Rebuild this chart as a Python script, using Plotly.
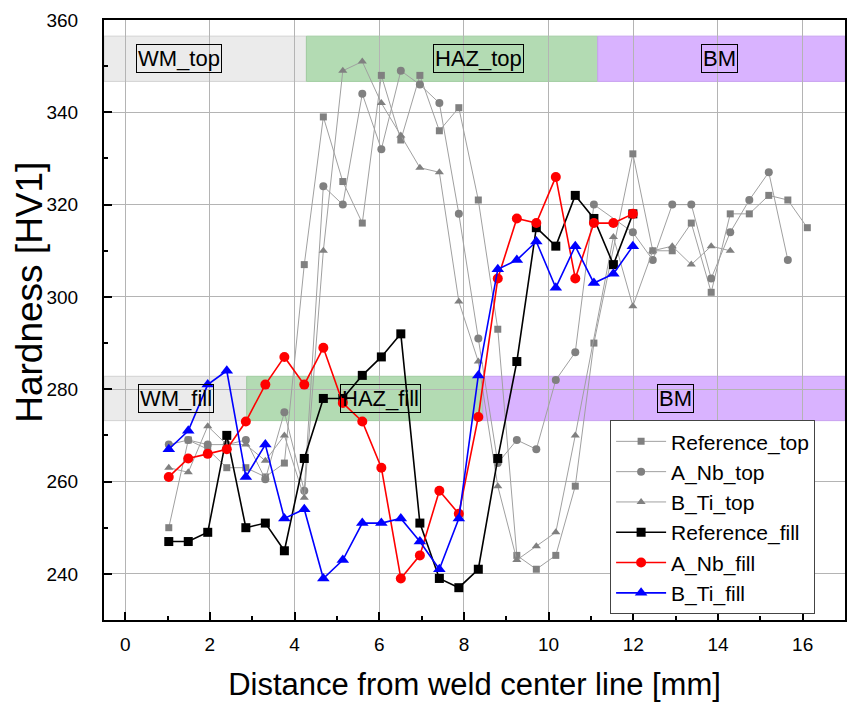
import plotly.graph_objects as go

# ---- data ----
x_fill = [1.03, 1.49, 1.95, 2.40, 2.85, 3.31, 3.76, 4.23, 4.68, 5.14, 5.60, 6.05,
          6.51, 6.96, 7.42, 7.88, 8.34, 8.80, 9.25, 9.71, 10.17, 10.63, 11.07,
          11.53, 11.99]

x_reference_top = [1.03, 1.49, 1.95, 2.40, 2.85, 3.31, 3.76, 4.23, 4.68, 5.14, 5.60, 6.05,
                   6.51, 6.96, 7.42, 7.88, 8.34, 8.80, 9.25, 9.71, 10.17, 10.63, 11.07,
                   11.99, 12.46, 12.92, 13.37, 13.84, 14.29, 14.74, 15.20, 15.65, 16.11]
reference_top = [250, 269, 267, 263, 263, 261, 264, 307, 339, 325, 316, 348, 334, 348,
                 336, 341, 321, 293, 244, 241, 244, 259, 290, 331, 310, 310, 316,
                 301, 318, 318, 322, 321, 315]

x_a_nb_top = [1.03, 1.49, 1.95, 2.40, 2.85, 3.31, 3.76, 4.23, 4.68, 5.14, 5.60, 6.05,
              6.51, 6.96, 7.42, 7.88, 8.34, 8.80, 9.25, 9.71, 10.17, 10.63, 11.07,
              11.99, 12.46, 12.92, 13.37, 13.84, 14.29, 14.74, 15.20, 15.65]
a_nb_top = [268, 269, 268, 268, 269, 260.5, 275, 258, 324, 320, 344, 332, 349, 346,
            342, 318, 291, 264, 269, 267, 282, 288, 320, 314, 308, 320, 320,
            304, 314, 321, 327, 308]

x_b_ti_top = [1.03, 1.49, 1.95, 2.40, 2.85, 3.31, 3.76, 4.23, 4.68, 5.14, 5.60, 6.05,
              6.51, 6.96, 7.42, 7.88, 8.34, 8.80, 9.25, 9.71, 10.17, 10.63, 11.53,
              11.99, 12.46, 12.92, 13.37, 13.84, 14.29]
b_ti_top = [263, 262, 272, 268, 268, 264.5, 270, 256.5, 310, 349, 351, 342, 335, 328,
            327, 299, 286, 259, 243, 246, 249, 270, 313, 298, 310, 311, 307,
            311, 310]

reference_fill = [247, 247, 249, 270, 250, 251, 245, 265, 278, 278, 283, 287, 292, 251,
                  239, 237, 241, 265, 286, 315, 311, 322, 317, 307, 318]
a_nb_fill = [261, 265, 266, 267, 273, 281, 287, 281, 289, 277, 273, 263, 239, 244,
             258, 253, 274, 304, 317, 316, 326, 304, 316, 316, 318]
b_ti_fill = [267, 271, 281, 284, 261, 268, 252, 254, 239, 243, 251, 251, 252, 247,
             241, 252, 283, 306, 308, 312, 302, 311, 303, 305, 311]

# zones: (label, x0, x1, fill colour, edge colour, label x)
top_band = [346.7, 356.5]
fill_band = [273.2, 282.8]
top_zones = [("WM_top", -0.5, 4.28, "#ebebeb", "#d2d2d2", 1.28),
             ("HAZ_top", 4.28, 11.16, "#b3dbb3", "#a0cca0", 8.34),
             ("BM", 11.16, 17.0, "#d9b3ff", "#c8a0f0", 14.04)]
fill_zones = [("WM_fill", -0.5, 2.87, "#ebebeb", "#d2d2d2", 1.21),
              ("HAZ_fill", 2.87, 8.45, "#b3dbb3", "#a0cca0", 6.03),
              ("BM", 8.45, 17.0, "#d9b3ff", "#c8a0f0", 13.0)]

x_ticks = [0, 2, 4, 6, 8, 10, 12, 14, 16]
y_ticks = [240, 260, 280, 300, 320, 340, 360]

FONT = "Liberation Sans, Arial, sans-serif"

fig = go.Figure()

def add_series(name, xs, ys, line_color, marker_color, symbol, msize, lwidth):
    fig.add_trace(go.Scatter(
        x=xs, y=ys, name=name, mode="lines+markers",
        line=dict(color=line_color, width=lwidth),
        marker=dict(symbol=symbol, size=msize, color=marker_color,
                    line=dict(width=0)),
    ))

add_series("Reference_top", x_reference_top, reference_top, "#a0a0a0", "#808080", "square", 7, 1)
add_series("A_Nb_top", x_a_nb_top, a_nb_top, "#a0a0a0", "#808080", "circle", 8, 1)
add_series("B_Ti_top", x_b_ti_top, b_ti_top, "#a0a0a0", "#808080", "triangle-up", 8, 1)
add_series("Reference_fill", x_fill, reference_fill, "#000000", "#000000", "square", 9, 1.6)
add_series("A_Nb_fill", x_fill, a_nb_fill, "#ff0000", "#ff0000", "circle", 10, 1.6)
add_series("B_Ti_fill", x_fill, b_ti_fill, "#0000ff", "#0000ff", "triangle-up", 11, 1.6)

shapes = []
annotations = []
for zones, band in ((top_zones, top_band), (fill_zones, fill_band)):
    for label, x0, x1, col, lcol, lx in zones:
        shapes.append(dict(type="rect", xref="x", yref="y", x0=x0, x1=x1,
                           y0=band[0], y1=band[1], fillcolor=col,
                           line=dict(color=lcol, width=1), layer="below"))
        annotations.append(dict(x=lx, y=(band[0] + band[1]) / 2, xref="x", yref="y",
                                text=label, showarrow=False,
                                font=dict(family=FONT, size=22, color="black"),
                                bordercolor="black", borderwidth=1, borderpad=1))

# y-axis title placed as a rotated annotation (sits slightly above centre in the reference)
annotations.append(dict(x=-0.0999, y=0.547, xref="paper", yref="paper",
                        text="Hardness [HV1]", showarrow=False, textangle=-90,
                        xanchor="center", yanchor="middle",
                        font=dict(family=FONT, size=37, color="black")))

fig.update_layout(
    width=848, height=703,
    margin=dict(l=104, r=3, t=20, b=83, autoexpand=False),
    paper_bgcolor="white", plot_bgcolor="white",
    font=dict(family=FONT, color="black"),
    shapes=shapes, annotations=annotations,
    showlegend=True,
    legend=dict(x=0.683, y=0.333, xanchor="left", yanchor="top",
                bgcolor="white", bordercolor="#444444", borderwidth=1,
                font=dict(family=FONT, size=21, color="black"),
                tracegroupgap=0, itemwidth=50),
)

fig.update_xaxes(
    range=[-0.5, 17.0], tickvals=x_ticks, ticktext=[str(v) for v in x_ticks],
    automargin=False,
    showgrid=True, gridcolor="#b4b4b4", gridwidth=1,
    showline=True, linecolor="black", linewidth=2, mirror=True,
    ticks="inside", ticklen=8, tickwidth=1.5, tickcolor="black",
    minor=dict(ticks="inside", ticklen=4, dtick=1, tick0=0, tickcolor="black", showgrid=False),
    tickfont=dict(family=FONT, size=19, color="black"),
    ticklabelstandoff=6,
    zeroline=False,
    title=dict(text="Distance from weld center line [mm]",
               font=dict(family=FONT, size=31, color="black"), standoff=20),
)
fig.update_yaxes(
    range=[230, 360], tickvals=y_ticks, ticktext=[str(v) for v in y_ticks],
    automargin=False,
    showgrid=True, gridcolor="#b4b4b4", gridwidth=1,
    showline=True, linecolor="black", linewidth=2, mirror=True,
    ticks="inside", ticklen=8, tickwidth=1.5, tickcolor="black",
    minor=dict(ticks="inside", ticklen=4, dtick=10, tick0=230, tickcolor="black", showgrid=False),
    tickfont=dict(family=FONT, size=19, color="black"),
    ticklabelstandoff=20,
    zeroline=False,
)

fig.write_html("out.html", config={"displayModeBar": False},
               post_script="document.body.style.margin='0';document.body.style.overflow='hidden';")
